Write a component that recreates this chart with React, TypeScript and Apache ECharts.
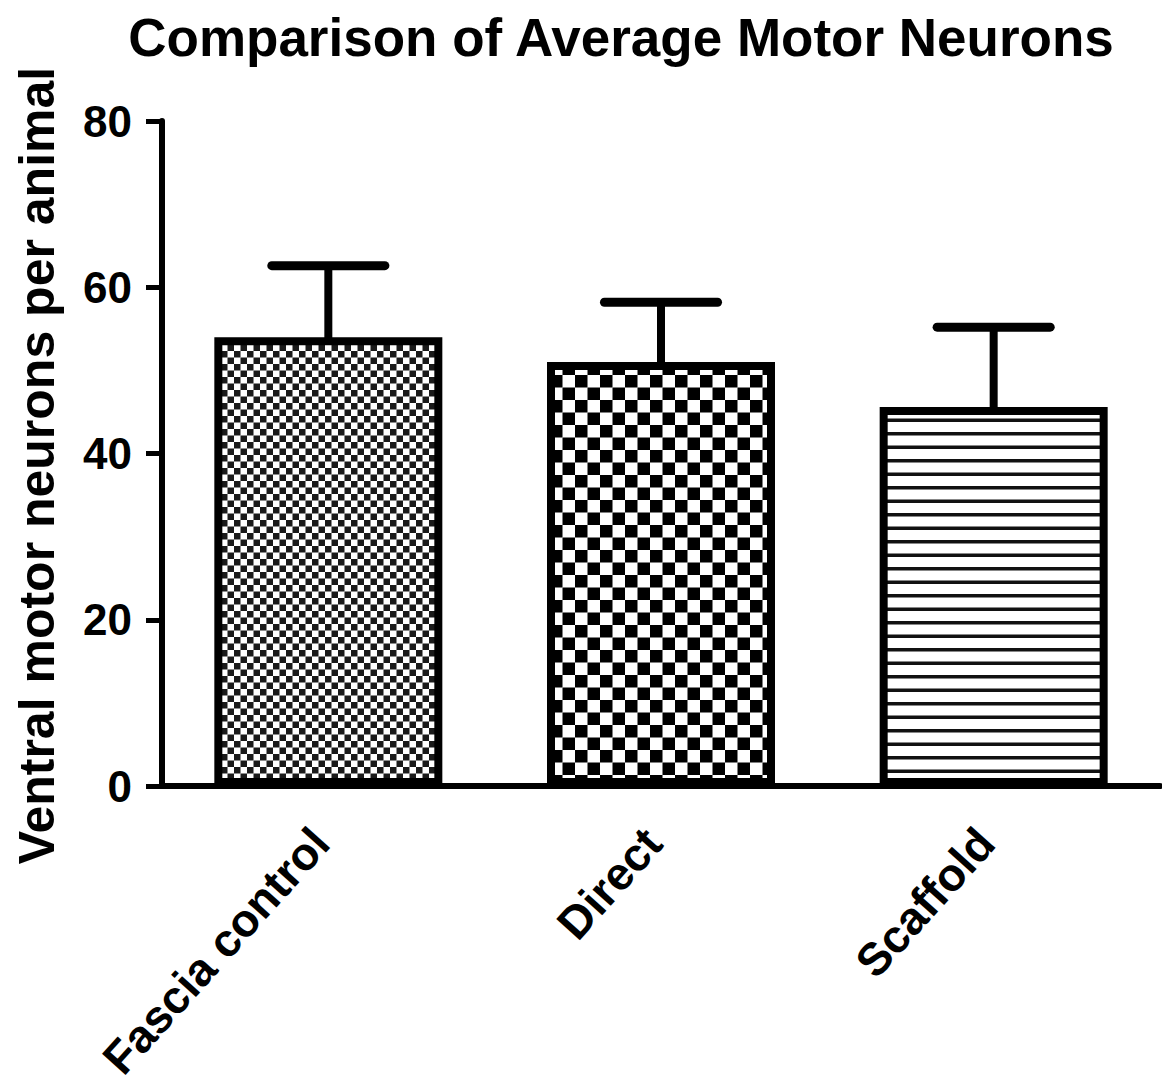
import React, { useEffect, useRef } from "react";
import * as echarts from "echarts";

const categories = ["Fascia control", "Direct", "Scaffold"];
const means = [54.0, 51.0, 45.6];
const errors = [8.6, 7.2, 9.6];
const yTicks = { min: 0, max: 80, interval: 20 };

const FONT = "'Liberation Sans', Arial, sans-serif";

function makeCanvas(w: number, h: number, draw: (ctx: CanvasRenderingContext2D) => void) {
  const c = document.createElement("canvas");
  c.width = w;
  c.height = h;
  const ctx = c.getContext("2d")!;
  ctx.fillStyle = "#ffffff";
  ctx.fillRect(0, 0, w, h);
  draw(ctx);
  return c;
}

function checker(cell: number, color: string) {
  const size = Math.round(cell * 2);
  return makeCanvas(size, size, (ctx) => {
    ctx.fillStyle = color;
    ctx.fillRect(0, 0, size / 2, size / 2);
    ctx.fillRect(size / 2, size / 2, size / 2, size / 2);
  });
}

function hlines(period: number, thick: number) {
  const h = Math.round(period * 2);
  return makeCanvas(4, h, (ctx) => {
    ctx.fillStyle = "#111";
    ctx.fillRect(0, 0, 4, thick);
    ctx.fillRect(0, h / 2, 4, thick);
  });
}

export default function App() {
  const ref = useRef<HTMLDivElement>(null);
  useEffect(() => {
    if (!ref.current) return;
    const chart = echarts.init(ref.current, null, { renderer: "svg" });
    const patterns = [checker(6.5, "#1a1a1a"), checker(12.5, "#000"), hlines(13.5, 3.5)];
    const barData = means.map((v, i) => ({
      value: v,
      itemStyle: {
        color: { image: patterns[i], repeat: "repeat" } as any,
        borderColor: "#000",
        borderWidth: 8,
      },
    }));
    chart.setOption({
      animation: false,
      backgroundColor: "#fff",
      title: {
        text: "Comparison of Average Motor Neurons",
        left: 616,
        textAlign: "center",
        top: 6,
        textStyle: { fontFamily: FONT, fontWeight: "bold", fontSize: 53, color: "#000" },
      },
      grid: { left: 162, right: 2, top: 121, bottom: 306, containLabel: false },
      xAxis: {
        type: "category",
        data: categories,
        axisLine: { lineStyle: { color: "#000", width: 6 } },
        axisTick: { alignWithLabel: true, length: 15, lineStyle: { color: "#000", width: 5 } },
        axisLabel: {
          rotate: 48,
          interval: 0,
          margin: 40,
          padding: [0, 12, 0, 0],
          fontFamily: FONT,
          fontWeight: "bold",
          fontSize: 46,
          color: "#000",
        },
      },
      yAxis: {
        type: "value",
        min: yTicks.min,
        max: yTicks.max,
        interval: yTicks.interval,
        name: "Ventral motor neurons per animal",
        nameLocation: "middle",
        nameGap: 100,
        nameTextStyle: {
          fontFamily: FONT,
          fontWeight: "bold",
          fontSize: 50,
          color: "#000",
          padding: [0, 24, 0, 0],
        },
        splitLine: { show: false },
        axisLine: { show: true, lineStyle: { color: "#000", width: 6 } },
        axisTick: { show: true, length: 16, lineStyle: { color: "#000", width: 5 } },
        axisLabel: { margin: 30, fontFamily: FONT, fontWeight: "bold", fontSize: 44, color: "#000" },
      },
      series: [
        {
          type: "custom",
          z: 1,
          clip: false,
          data: means.map((m, i) => [i, m, m + errors[i]]),
          renderItem: (params: any, api: any) => {
            const i = api.value(0);
            const base = api.coord([i, api.value(1)]);
            const top = api.coord([i, api.value(2)]);
            const band = api.size([1, 0])[0];
            const half = band * 0.17;
            return {
              type: "group",
              children: [
                {
                  type: "line",
                  shape: { x1: base[0], y1: base[1] + 6, x2: top[0], y2: top[1] },
                  style: { stroke: "#000", lineWidth: 8 },
                },
                {
                  type: "line",
                  shape: { x1: top[0] - half, y1: top[1], x2: top[0] + half, y2: top[1] },
                  style: { stroke: "#000", lineWidth: 9, lineCap: "round" },
                },
              ],
            };
          },
        },
        {
          type: "bar",
          z: 2,
          barWidth: 228,
          data: barData,
        },
      ],
    });
    return () => chart.dispose();
  }, []);
  return <div ref={ref} style={{ position: "fixed", left: 0, top: 0, width: 1162, height: 1092 }} />;
}
